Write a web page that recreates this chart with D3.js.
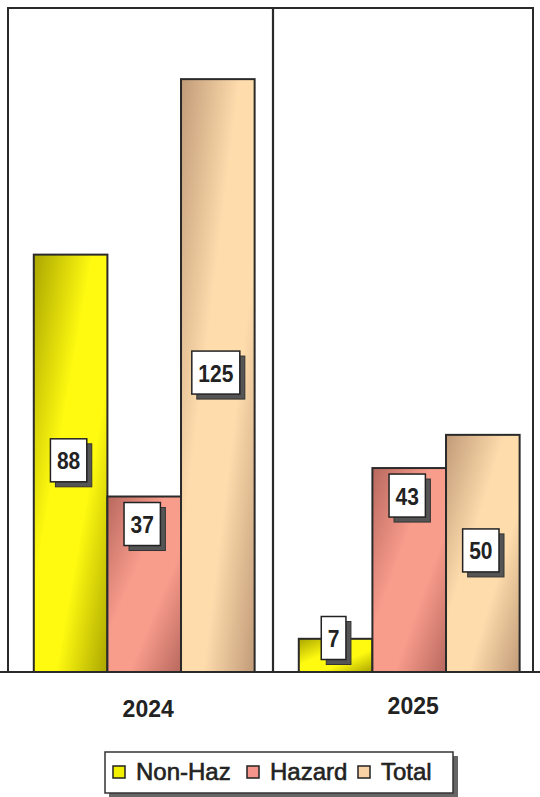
<!DOCTYPE html>
<html>
<head>
<meta charset="utf-8">
<script src="https://cdn.jsdelivr.net/npm/d3@7"></script>
<style>
  body { margin: 0; background: #fff; }
  svg { display: block; font-family: "Liberation Sans", Arial, sans-serif; }
</style>
</head>
<body>
<div id="chart"></div>
<script>
// data
var years = ["2024", "2025"];
var series = ["Non-Haz", "Hazard", "Total"];
var nonHaz = [88, 7];
var hazard = [37, 43];
var total = [125, 50];

var svgWidth = 540;
var svgHeight = 797;

// colours: dark edge / light middle of each bar gradient
var colors = {
  "Non-Haz": { dark: "#aaa600", light: "#fffa10", swatch: "#f2ef00" },
  "Hazard": { dark: "#b8685e", light: "#f89c8c", swatch: "#f4948a" },
  "Total": { dark: "#c09a78", light: "#fedcac", swatch: "#f8d2a4" }
};

var values = { "Non-Haz": nonHaz, "Hazard": hazard, "Total": total };

var frame = { left: 8, right: 533, top: 8, bottom: 672 };

var svg = d3.select("#chart")
  .append("svg")
  .attr("width", svgWidth)
  .attr("height", svgHeight);

var defs = svg.append("defs");
series.forEach(function(s, i) {
  var g = defs.append("linearGradient")
    .attr("id", "grad" + i)
    .attr("x1", 0).attr("y1", 0)
    .attr("x2", 1).attr("y2", 1);
  g.append("stop").attr("offset", "0%").attr("stop-color", colors[s].dark);
  g.append("stop").attr("offset", "40%").attr("stop-color", colors[s].light);
  g.append("stop").attr("offset", "65%").attr("stop-color", colors[s].light);
  g.append("stop").attr("offset", "100%").attr("stop-color", colors[s].dark);
});

// scales
var x0 = d3.scaleBand()
  .domain(years)
  .range([8, 538]);

var x1 = d3.scaleBand()
  .domain(series)
  .range([0, x0.bandwidth()])
  .paddingOuter(0.30)
  .align(0.584);

var y = d3.scaleLinear()
  .domain([0, 140])
  .range([frame.bottom, frame.top]);

// frame
svg.append("rect")
  .attr("x", frame.left)
  .attr("y", frame.top)
  .attr("width", frame.right - frame.left)
  .attr("height", frame.bottom - frame.top)
  .attr("fill", "none")
  .attr("stroke", "#2a2a2a")
  .attr("stroke-width", 2);

svg.append("line")
  .attr("x1", x0("2025")).attr("x2", x0("2025"))
  .attr("y1", frame.top).attr("y2", frame.bottom)
  .attr("stroke", "#2a2a2a")
  .attr("stroke-width", 2.2);

// bars
var rows = [];
years.forEach(function(yr, yi) {
  series.forEach(function(s, si) {
    rows.push({ year: yr, series: s, si: si, value: values[s][yi] });
  });
});

var barGroup = svg.append("g");
barGroup.selectAll("rect")
  .data(rows)
  .enter()
  .append("rect")
  .attr("x", d => x0(d.year) + x1(d.series))
  .attr("y", d => y(d.value))
  .attr("width", x1.bandwidth())
  .attr("height", d => y(0) - y(d.value))
  .attr("fill", d => `url(#grad${d.si})`)
  .attr("stroke", "#2a2a2a")
  .attr("stroke-width", 2);

// baseline
svg.append("line")
  .attr("x1", 0).attr("x2", svgWidth)
  .attr("y1", frame.bottom).attr("y2", frame.bottom)
  .attr("stroke", "#2a2a2a")
  .attr("stroke-width", 2.2);

// value labels (white boxes with drop shadow)
var boxH = 43;
var labels = svg.append("g");
rows.forEach(function(d) {
  var cx = x0(d.year) + x1(d.series) + x1.bandwidth() / 2 - 2;
  var cy;
  if (d.series === "Hazard") {
    cy = y(d.value) + 6 + boxH / 2;
  } else {
    cy = (y(d.value) + y(0)) / 2 - 3;
    cy = Math.min(cy, y(0) - 34);
  }
  var g = labels.append("g");
  var shadow = g.append("rect").attr("fill", "#555").attr("stroke", "#333").attr("stroke-width", 1);
  var box = g.append("rect").attr("fill", "#fff").attr("stroke", "#222").attr("stroke-width", 1.5);
  var t = g.append("text")
    .attr("transform", `translate(${cx},${cy + 9}) scale(1,1.15)`)
    .attr("text-anchor", "middle")
    .attr("font-size", 21)
    .attr("font-weight", "bold")
    .attr("fill", "#222")
    .text(d.value);
  var w = t.node().getComputedTextLength() + 13;
  box.attr("x", cx - w / 2).attr("y", cy - boxH / 2).attr("width", w).attr("height", boxH);
  shadow.attr("x", cx - w / 2 + 5).attr("y", cy - boxH / 2 + 5).attr("width", w).attr("height", boxH);
});

// category labels
svg.append("g").selectAll("text")
  .data(years)
  .enter()
  .append("text")
  .attr("x", d => x0(d) + x1("Hazard") + x1.bandwidth() / 2 + 4)
  .attr("y", (d, i) => i === 0 ? 717 : 714)
  .attr("text-anchor", "middle")
  .attr("font-size", 23)
  .attr("font-weight", "bold")
  .attr("fill", "#222")
  .text(d => d);

// legend
var legend = svg.append("g");
legend.append("rect")
  .attr("x", 109).attr("y", 756).attr("width", 349).attr("height", 41)
  .attr("fill", "#666");
legend.append("rect")
  .attr("x", 105).attr("y", 752).attr("width", 348).attr("height", 41)
  .attr("fill", "#fff")
  .attr("stroke", "#333")
  .attr("stroke-width", 1.5);

var legendX = [113, 247, 358];
series.forEach(function(s, i) {
  legend.append("rect")
    .attr("x", legendX[i]).attr("y", 766)
    .attr("width", 12).attr("height", 12)
    .attr("fill", colors[s].swatch)
    .attr("stroke", "#222")
    .attr("stroke-width", 1.5);
  legend.append("text")
    .attr("x", legendX[i] + 23)
    .attr("y", 780)
    .attr("font-size", 24)
    .attr("fill", "#222")
    .attr("stroke", "#222")
    .attr("stroke-width", 0.6)
    .text(s);
});
</script>
</body>
</html>
